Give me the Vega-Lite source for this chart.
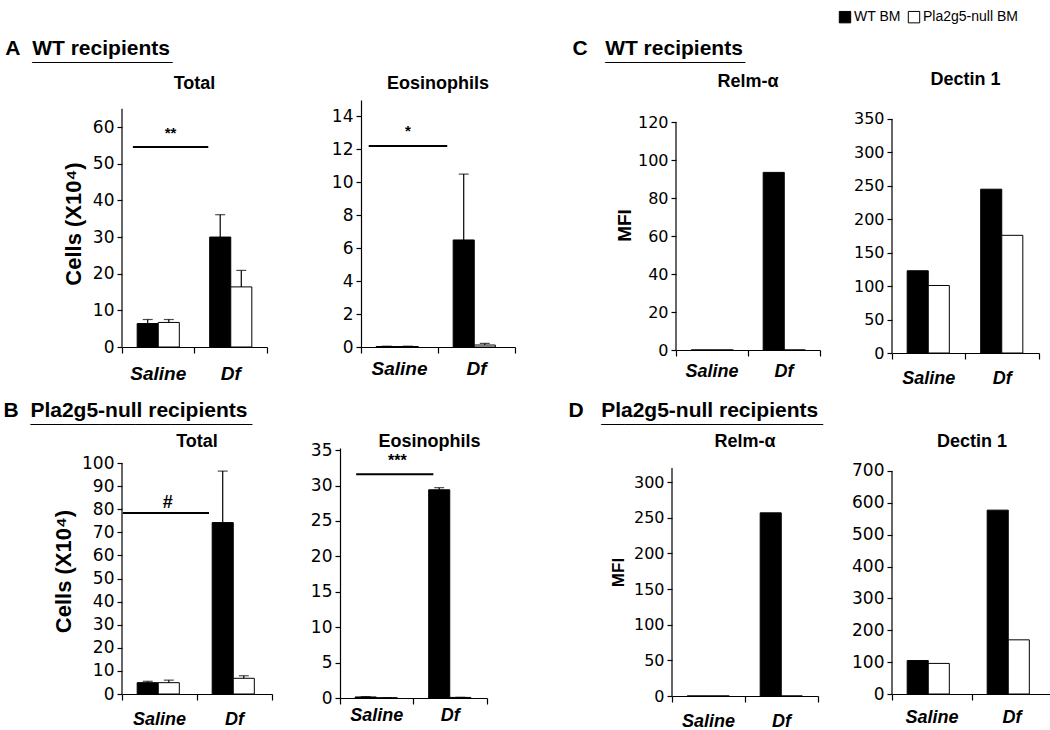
{
"$schema":"https://vega.github.io/schema/vega-lite/v6.json",
"background":"white",
"padding":{"left":3,"top":10,"right":0,"bottom":0},
"datasets":{
"bars":[
{"panel":"AT","cond":"Saline","bm":"WT BM","value":6.4,"upper":7.5},
{"panel":"AT","cond":"Saline","bm":"Pla2g5-null BM","value":6.7,"upper":7.5},
{"panel":"AT","cond":"Df","bm":"WT BM","value":30.0,"upper":36.1},
{"panel":"AT","cond":"Df","bm":"Pla2g5-null BM","value":16.4,"upper":20.9},
{"panel":"AE","cond":"Saline","bm":"WT BM","value":0.03,"upper":0.05},
{"panel":"AE","cond":"Saline","bm":"Pla2g5-null BM","value":0.03,"upper":0.05},
{"panel":"AE","cond":"Df","bm":"WT BM","value":6.5,"upper":10.5},
{"panel":"AE","cond":"Df","bm":"Pla2g5-null BM","value":0.12,"upper":0.22},
{"panel":"CR","cond":"Saline","bm":"WT BM","value":0},
{"panel":"CR","cond":"Saline","bm":"Pla2g5-null BM","value":0},
{"panel":"CR","cond":"Df","bm":"WT BM","value":93.5},
{"panel":"CR","cond":"Df","bm":"Pla2g5-null BM","value":0},
{"panel":"CD","cond":"Saline","bm":"WT BM","value":123},
{"panel":"CD","cond":"Saline","bm":"Pla2g5-null BM","value":101},
{"panel":"CD","cond":"Df","bm":"WT BM","value":245},
{"panel":"CD","cond":"Df","bm":"Pla2g5-null BM","value":176},
{"panel":"BT","cond":"Saline","bm":"WT BM","value":4.9,"upper":5.5},
{"panel":"BT","cond":"Saline","bm":"Pla2g5-null BM","value":4.9,"upper":6.0},
{"panel":"BT","cond":"Df","bm":"WT BM","value":74.2,"upper":96.5},
{"panel":"BT","cond":"Df","bm":"Pla2g5-null BM","value":6.8,"upper":7.9},
{"panel":"BE","cond":"Saline","bm":"WT BM","value":0.15,"upper":0.2},
{"panel":"BE","cond":"Saline","bm":"Pla2g5-null BM","value":0.03,"upper":0.05},
{"panel":"BE","cond":"Df","bm":"WT BM","value":29.4,"upper":29.7},
{"panel":"BE","cond":"Df","bm":"Pla2g5-null BM","value":0.08,"upper":0.1},
{"panel":"DR","cond":"Saline","bm":"WT BM","value":0},
{"panel":"DR","cond":"Saline","bm":"Pla2g5-null BM","value":0},
{"panel":"DR","cond":"Df","bm":"WT BM","value":257},
{"panel":"DR","cond":"Df","bm":"Pla2g5-null BM","value":0},
{"panel":"DD","cond":"Saline","bm":"WT BM","value":105},
{"panel":"DD","cond":"Saline","bm":"Pla2g5-null BM","value":96},
{"panel":"DD","cond":"Df","bm":"WT BM","value":577},
{"panel":"DD","cond":"Df","bm":"Pla2g5-null BM","value":170}
],
"sig":[
{"panel":"AT","from":"Saline","to":"Df","ly":54.6,"ty":58.4,"label":"**"},
{"panel":"AE","from":"Saline","to":"Df","ly":12.2,"ty":13.1,"label":"*"},
{"panel":"BT","from":"Saline","to":"Df","ly":78.4,"ty":82.7,"label":"#"},
{"panel":"BE","from":"Saline","to":"Df","ly":31.6,"ty":33.4,"label":"***"}
]
},
"spacing":13,
"vconcat":[
{"spacing":56,"hconcat":[
{"title":{"text":"A\u00a0\u00a0WT recipients","subtitle":"\u200b\u2002\u2002\u00a0____________","anchor":"start","fontSize":21,"subtitleFontSize":21,"subtitleFont":"Liberation Sans","subtitleFontWeight":"bold","subtitleColor":"black","subtitlePadding":-16,"dx":-57,"offset":11},
"spacing":63,"hconcat":[
{"width":145,"height":247,"title":{"text":"Total","offset":7},
"layer":[
{"data":{"name":"bars"},"transform":[{"filter":"datum.panel==='AT'"}],"mark":{"type":"bar","stroke":"black","strokeWidth":1},
"encoding":{
"x":{"field":"cond","type":"nominal","scale":{"domain":["Saline","Df"],"paddingInner":0,"paddingOuter":0},"axis":{"title":null,"labelAngle":0,"labelFont":"Liberation Sans","labelFontSize":19,"labelFontWeight":"bold","labelFontStyle":"italic","labelPadding":11,"tickSize":6,"bandPosition":1,"tickExtra":true}},
"xOffset":{"field":"bm","type":"nominal","scale":{"domain":["WT BM","Pla2g5-null BM"],"paddingInner":0,"paddingOuter":0.72}},
"y":{"field":"value","type":"quantitative","scale":{"domain":[0,67.4],"nice":false},"axis":{"values":[0,10,20,30,40,50,60],"title":"Cells (X10⁴)","titleFontSize":22,"titlePadding":7,"labelFontSize":17,"domain":false}},
"fill":{"field":"bm","type":"nominal","scale":{"domain":["WT BM","Pla2g5-null BM"],"range":["black","white"]},"legend":{"orient":"none","legendX":716,"legendY":-90,"direction":"horizontal","title":null,"symbolType":"square","symbolSize":130,"symbolStrokeColor":"black","symbolStrokeWidth":1,"labelFontSize":14,"labelFont":"Liberation Sans","labelColor":"black","columnPadding":5,"labelOffset":2}}}},
{"data":{"name":"bars"},"transform":[{"filter":"datum.panel==='AT' && datum.cond==='Saline' && datum.bm==='WT BM'"}],"mark":{"type":"rule","color":"black","strokeWidth":1.2},"encoding":{"x":{"field":"cond","type":"nominal","bandPosition":0},"y":{"datum":0,"type":"quantitative","axis":{"values":[0,10,20,30,40,50,60],"title":"Cells (X10⁴)","titleFontSize":22,"titlePadding":7,"labelFontSize":17,"domain":false}},"y2":{"datum":65}}},
{"data":{"name":"bars"},"transform":[{"filter":"datum.panel==='AT'"}],"mark":{"type":"rule","color":"black","strokeWidth":1.2},
"encoding":{"x":{"field":"cond","type":"nominal"},"xOffset":{"field":"bm","type":"nominal"},"y":{"field":"value","type":"quantitative","axis":{"values":[0,10,20,30,40,50,60],"title":"Cells (X10⁴)","titleFontSize":22,"titlePadding":7,"labelFontSize":17,"domain":false}},"y2":{"field":"upper"}}},
{"data":{"name":"bars"},"transform":[{"filter":"datum.panel==='AT'"}],"mark":{"type":"tick","orient":"horizontal","color":"black","size":10,"thickness":1.2},
"encoding":{"x":{"field":"cond","type":"nominal"},"xOffset":{"field":"bm","type":"nominal"},"y":{"field":"upper","type":"quantitative","axis":{"values":[0,10,20,30,40,50,60],"title":"Cells (X10⁴)","titleFontSize":22,"titlePadding":7,"labelFontSize":17,"domain":false}}}},
{"data":{"name":"sig"},"transform":[{"filter":"datum.panel==='AT'"}],"mark":{"type":"rule","color":"black","strokeWidth":2},
"encoding":{"x":{"field":"from","type":"nominal","bandPosition":0.15},"x2":{"field":"to","bandPosition":0.19},"y":{"field":"ly","type":"quantitative","axis":{"values":[0,10,20,30,40,50,60],"title":"Cells (X10⁴)","titleFontSize":22,"titlePadding":7,"labelFontSize":17,"domain":false}}}},
{"data":{"name":"sig"},"transform":[{"filter":"datum.panel==='AT'"}],"mark":{"type":"text","fontSize":15,"fontWeight":"bold","color":"black","baseline":"middle"},
"encoding":{"x":{"field":"from","type":"nominal","bandPosition":0.67},"y":{"field":"ty","type":"quantitative","axis":{"values":[0,10,20,30,40,50,60],"title":"Cells (X10⁴)","titleFontSize":22,"titlePadding":7,"labelFontSize":17,"domain":false}},"text":{"field":"label"}}}
]},
{"width":154,"height":247,"title":{"text":"Eosinophils","offset":7},
"layer":[
{"data":{"name":"bars"},"transform":[{"filter":"datum.panel==='AE'"}],"mark":{"type":"bar","stroke":"black","strokeWidth":1},
"encoding":{
"x":{"field":"cond","type":"nominal","scale":{"domain":["Saline","Df"],"paddingInner":0,"paddingOuter":0},"axis":{"title":null,"labelAngle":0,"labelFont":"Liberation Sans","labelFontSize":19,"labelFontWeight":"bold","labelFontStyle":"italic","labelPadding":6,"tickSize":6,"bandPosition":1,"tickExtra":true}},
"xOffset":{"field":"bm","type":"nominal","scale":{"domain":["WT BM","Pla2g5-null BM"],"paddingInner":0,"paddingOuter":0.72}},
"y":{"field":"value","type":"quantitative","scale":{"domain":[0,15],"nice":false},"axis":{"values":[0,2,4,6,8,10,12,14],"title":null,"labelFontSize":17}},
"fill":{"field":"bm","type":"nominal","scale":{"domain":["WT BM","Pla2g5-null BM"],"range":["black","white"]},"legend":{"orient":"none","legendX":716,"legendY":-90,"direction":"horizontal","title":null,"symbolType":"square","symbolSize":130,"symbolStrokeColor":"black","symbolStrokeWidth":1,"labelFontSize":14,"labelFont":"Liberation Sans","labelColor":"black","columnPadding":5,"labelOffset":2}}}},
{"data":{"name":"bars"},"transform":[{"filter":"datum.panel==='AE'"}],"mark":{"type":"rule","color":"black","strokeWidth":1.2},
"encoding":{"x":{"field":"cond","type":"nominal"},"xOffset":{"field":"bm","type":"nominal"},"y":{"field":"value","type":"quantitative","axis":{"values":[0,2,4,6,8,10,12,14],"title":null,"labelFontSize":17}},"y2":{"field":"upper"}}},
{"data":{"name":"bars"},"transform":[{"filter":"datum.panel==='AE'"}],"mark":{"type":"tick","orient":"horizontal","color":"black","size":10,"thickness":1.2},
"encoding":{"x":{"field":"cond","type":"nominal"},"xOffset":{"field":"bm","type":"nominal"},"y":{"field":"upper","type":"quantitative","axis":{"values":[0,2,4,6,8,10,12,14],"title":null,"labelFontSize":17}}}},
{"data":{"name":"sig"},"transform":[{"filter":"datum.panel==='AE'"}],"mark":{"type":"rule","color":"black","strokeWidth":2},
"encoding":{"x":{"field":"from","type":"nominal","bandPosition":0.1},"x2":{"field":"to","bandPosition":0.12},"y":{"field":"ly","type":"quantitative","axis":{"values":[0,2,4,6,8,10,12,14],"title":null,"labelFontSize":17}}}},
{"data":{"name":"sig"},"transform":[{"filter":"datum.panel==='AE'"}],"mark":{"type":"text","fontSize":15,"fontWeight":"bold","color":"black","baseline":"middle"},
"encoding":{"x":{"field":"from","type":"nominal","bandPosition":0.61},"y":{"field":"ty","type":"quantitative","axis":{"values":[0,2,4,6,8,10,12,14],"title":null,"labelFontSize":17}},"text":{"field":"label"}}}
]}
]},
{"title":{"text":"C\u00a0\u00a0\u00a0WT recipients","subtitle":"\u200b\u2002\u2002\u00a0\u00a0____________","anchor":"start","fontSize":21,"subtitleFontSize":21,"subtitleFont":"Liberation Sans","subtitleFontWeight":"bold","subtitleColor":"black","subtitlePadding":-16,"dx":-43,"offset":7},
"spacing":32,"hconcat":[
{"width":144,"height":250,"title":{"text":"Relm-α","offset":9},
"layer":[
{"data":{"name":"bars"},"transform":[{"filter":"datum.panel==='CR'"}],"mark":{"type":"bar","stroke":"black","strokeWidth":1},
"encoding":{
"x":{"field":"cond","type":"nominal","scale":{"domain":["Saline","Df"],"paddingInner":0,"paddingOuter":0},"axis":{"title":null,"labelAngle":0,"labelFont":"Liberation Sans","labelFontSize":18,"labelFontWeight":"bold","labelFontStyle":"italic","labelPadding":6,"tickSize":6,"bandPosition":1,"tickExtra":true}},
"xOffset":{"field":"bm","type":"nominal","scale":{"domain":["WT BM","Pla2g5-null BM"],"paddingInner":0,"paddingOuter":0.72}},
"y":{"field":"value","type":"quantitative","scale":{"domain":[0,131.6],"nice":false},"axis":{"values":[0,20,40,60,80,100,120],"title":"MFI","titleFontSize":19,"titlePadding":3,"labelFontSize":16,"domain":false}},
"fill":{"field":"bm","type":"nominal","scale":{"domain":["WT BM","Pla2g5-null BM"],"range":["black","white"]},"legend":{"orient":"none","legendX":716,"legendY":-90,"direction":"horizontal","title":null,"symbolType":"square","symbolSize":130,"symbolStrokeColor":"black","symbolStrokeWidth":1,"labelFontSize":14,"labelFont":"Liberation Sans","labelColor":"black","columnPadding":5,"labelOffset":2}}}},
{"data":{"name":"bars"},"transform":[{"filter":"datum.panel==='CR' && datum.cond==='Saline' && datum.bm==='WT BM'"}],"mark":{"type":"rule","color":"black","strokeWidth":1.2},"encoding":{"x":{"field":"cond","type":"nominal","bandPosition":0},"y":{"datum":0,"type":"quantitative","axis":{"values":[0,20,40,60,80,100,120],"title":"MFI","titleFontSize":19,"titlePadding":3,"labelFontSize":16,"domain":false}},"y2":{"datum":120}}}
]},
{"width":147,"height":253,"title":{"text":"Dectin 1","offset":11},
"layer":[
{"data":{"name":"bars"},"transform":[{"filter":"datum.panel==='CD'"}],"mark":{"type":"bar","stroke":"black","strokeWidth":1},
"encoding":{
"x":{"field":"cond","type":"nominal","scale":{"domain":["Saline","Df"],"paddingInner":0,"paddingOuter":0},"axis":{"title":null,"labelAngle":0,"labelFont":"Liberation Sans","labelFontSize":18,"labelFontWeight":"bold","labelFontStyle":"italic","labelPadding":10,"tickSize":6,"bandPosition":1,"tickExtra":true}},
"xOffset":{"field":"bm","type":"nominal","scale":{"domain":["WT BM","Pla2g5-null BM"],"paddingInner":0,"paddingOuter":0.72}},
"y":{"field":"value","type":"quantitative","scale":{"domain":[0,378.4],"nice":false},"axis":{"values":[0,50,100,150,200,250,300,350],"title":null,"labelFontSize":16,"domain":false}},
"fill":{"field":"bm","type":"nominal","scale":{"domain":["WT BM","Pla2g5-null BM"],"range":["black","white"]},"legend":{"orient":"none","legendX":716,"legendY":-90,"direction":"horizontal","title":null,"symbolType":"square","symbolSize":130,"symbolStrokeColor":"black","symbolStrokeWidth":1,"labelFontSize":14,"labelFont":"Liberation Sans","labelColor":"black","columnPadding":5,"labelOffset":2}}}},
{"data":{"name":"bars"},"transform":[{"filter":"datum.panel==='CD' && datum.cond==='Saline' && datum.bm==='WT BM'"}],"mark":{"type":"rule","color":"black","strokeWidth":1.2},"encoding":{"x":{"field":"cond","type":"nominal","bandPosition":0},"y":{"datum":0,"type":"quantitative","axis":{"values":[0,50,100,150,200,250,300,350],"title":null,"labelFontSize":16,"domain":false}},"y2":{"datum":350}}}
]}
]}
]},
{"spacing":80,"hconcat":[
{"title":{"text":"B\u00a0\u00a0Pla2g5-null recipients","subtitle":"\u200b\u2002\u2002\u00a0___________________","anchor":"start","fontSize":21,"subtitleFontSize":21,"subtitleFont":"Liberation Sans","subtitleFontWeight":"bold","subtitleColor":"black","subtitlePadding":-16,"dx":-49,"offset":7},
"spacing":37,"hconcat":[
{"width":150,"height":246,"title":{"text":"Total","offset":-3},
"layer":[
{"data":{"name":"bars"},"transform":[{"filter":"datum.panel==='BT'"}],"mark":{"type":"bar","stroke":"black","strokeWidth":1},
"encoding":{
"x":{"field":"cond","type":"nominal","scale":{"domain":["Saline","Df"],"paddingInner":0,"paddingOuter":0},"axis":{"title":null,"labelAngle":0,"labelFont":"Liberation Sans","labelFontSize":18,"labelFontWeight":"bold","labelFontStyle":"italic","labelPadding":10,"tickSize":6,"bandPosition":1,"tickExtra":true}},
"xOffset":{"field":"bm","type":"nominal","scale":{"domain":["WT BM","Pla2g5-null BM"],"paddingInner":0,"paddingOuter":0.72}},
"y":{"field":"value","type":"quantitative","scale":{"domain":[0,106.5],"nice":false},"axis":{"values":[0,10,20,30,40,50,60,70,80,90,100],"title":"Cells (X10⁴)","titleFontSize":22,"titlePadding":6,"labelFontSize":17,"domain":false}},
"fill":{"field":"bm","type":"nominal","scale":{"domain":["WT BM","Pla2g5-null BM"],"range":["black","white"]},"legend":{"orient":"none","legendX":716,"legendY":-90,"direction":"horizontal","title":null,"symbolType":"square","symbolSize":130,"symbolStrokeColor":"black","symbolStrokeWidth":1,"labelFontSize":14,"labelFont":"Liberation Sans","labelColor":"black","columnPadding":5,"labelOffset":2}}}},
{"data":{"name":"bars"},"transform":[{"filter":"datum.panel==='BT' && datum.cond==='Saline' && datum.bm==='WT BM'"}],"mark":{"type":"rule","color":"black","strokeWidth":1.2},"encoding":{"x":{"field":"cond","type":"nominal","bandPosition":0},"y":{"datum":0,"type":"quantitative","axis":{"values":[0,10,20,30,40,50,60,70,80,90,100],"title":"Cells (X10⁴)","titleFontSize":22,"titlePadding":6,"labelFontSize":17,"domain":false}},"y2":{"datum":100}}},
{"data":{"name":"bars"},"transform":[{"filter":"datum.panel==='BT'"}],"mark":{"type":"rule","color":"black","strokeWidth":1.2},
"encoding":{"x":{"field":"cond","type":"nominal"},"xOffset":{"field":"bm","type":"nominal"},"y":{"field":"value","type":"quantitative","axis":{"values":[0,10,20,30,40,50,60,70,80,90,100],"title":"Cells (X10⁴)","titleFontSize":22,"titlePadding":6,"labelFontSize":17,"domain":false}},"y2":{"field":"upper"}}},
{"data":{"name":"bars"},"transform":[{"filter":"datum.panel==='BT'"}],"mark":{"type":"tick","orient":"horizontal","color":"black","size":10,"thickness":1.2},
"encoding":{"x":{"field":"cond","type":"nominal"},"xOffset":{"field":"bm","type":"nominal"},"y":{"field":"upper","type":"quantitative","axis":{"values":[0,10,20,30,40,50,60,70,80,90,100],"title":"Cells (X10⁴)","titleFontSize":22,"titlePadding":6,"labelFontSize":17,"domain":false}}}},
{"data":{"name":"sig"},"transform":[{"filter":"datum.panel==='BT'"}],"mark":{"type":"rule","color":"black","strokeWidth":2},
"encoding":{"x":{"field":"from","type":"nominal","bandPosition":0.01},"x2":{"field":"to","bandPosition":0.16},"y":{"field":"ly","type":"quantitative","axis":{"values":[0,10,20,30,40,50,60,70,80,90,100],"title":"Cells (X10⁴)","titleFontSize":22,"titlePadding":6,"labelFontSize":17,"domain":false}}}},
{"data":{"name":"sig"},"transform":[{"filter":"datum.panel==='BT'"}],"mark":{"type":"text","fontSize":18,"fontWeight":"bold","color":"black","baseline":"middle"},
"encoding":{"x":{"field":"from","type":"nominal","bandPosition":0.61},"y":{"field":"ty","type":"quantitative","axis":{"values":[0,10,20,30,40,50,60,70,80,90,100],"title":"Cells (X10⁴)","titleFontSize":22,"titlePadding":6,"labelFontSize":17,"domain":false}},"text":{"field":"label"}}}
]},
{"width":147,"height":250,"title":{"text":"Eosinophils","offset":-10,"dx":16},
"layer":[
{"data":{"name":"bars"},"transform":[{"filter":"datum.panel==='BE'"}],"mark":{"type":"bar","stroke":"black","strokeWidth":1},
"encoding":{
"x":{"field":"cond","type":"nominal","scale":{"domain":["Saline","Df"],"paddingInner":0,"paddingOuter":0},"axis":{"title":null,"labelAngle":0,"labelFont":"Liberation Sans","labelFontSize":18,"labelFontWeight":"bold","labelFontStyle":"italic","labelPadding":2,"tickSize":6,"bandPosition":1,"tickExtra":true}},
"xOffset":{"field":"bm","type":"nominal","scale":{"domain":["WT BM","Pla2g5-null BM"],"paddingInner":0,"paddingOuter":0.72}},
"y":{"field":"value","type":"quantitative","scale":{"domain":[0,35.3],"nice":false},"axis":{"values":[0,5,10,15,20,25,30,35],"title":null,"labelFontSize":17}},
"fill":{"field":"bm","type":"nominal","scale":{"domain":["WT BM","Pla2g5-null BM"],"range":["black","white"]},"legend":{"orient":"none","legendX":716,"legendY":-90,"direction":"horizontal","title":null,"symbolType":"square","symbolSize":130,"symbolStrokeColor":"black","symbolStrokeWidth":1,"labelFontSize":14,"labelFont":"Liberation Sans","labelColor":"black","columnPadding":5,"labelOffset":2}}}},
{"data":{"name":"bars"},"transform":[{"filter":"datum.panel==='BE'"}],"mark":{"type":"rule","color":"black","strokeWidth":1.2},
"encoding":{"x":{"field":"cond","type":"nominal"},"xOffset":{"field":"bm","type":"nominal"},"y":{"field":"value","type":"quantitative","axis":{"values":[0,5,10,15,20,25,30,35],"title":null,"labelFontSize":17}},"y2":{"field":"upper"}}},
{"data":{"name":"bars"},"transform":[{"filter":"datum.panel==='BE'"}],"mark":{"type":"tick","orient":"horizontal","color":"black","size":10,"thickness":1.2},
"encoding":{"x":{"field":"cond","type":"nominal"},"xOffset":{"field":"bm","type":"nominal"},"y":{"field":"upper","type":"quantitative","axis":{"values":[0,5,10,15,20,25,30,35],"title":null,"labelFontSize":17}}}},
{"data":{"name":"sig"},"transform":[{"filter":"datum.panel==='BE'"}],"mark":{"type":"rule","color":"black","strokeWidth":2},
"encoding":{"x":{"field":"from","type":"nominal","bandPosition":0.22},"x2":{"field":"to","bandPosition":0.27},"y":{"field":"ly","type":"quantitative","axis":{"values":[0,5,10,15,20,25,30,35],"title":null,"labelFontSize":17}}}},
{"data":{"name":"sig"},"transform":[{"filter":"datum.panel==='BE'"}],"mark":{"type":"text","fontSize":16,"fontWeight":"bold","color":"black","baseline":"middle"},
"encoding":{"x":{"field":"from","type":"nominal","bandPosition":0.78},"y":{"field":"ty","type":"quantitative","axis":{"values":[0,5,10,15,20,25,30,35],"title":null,"labelFontSize":17}},"text":{"field":"label"}}}
]}
]},
{"title":{"text":"D\u00a0\u00a0\u00a0Pla2g5-null recipients","subtitle":"\u200b\u2002\u2002\u00a0\u00a0___________________","anchor":"start","fontSize":21,"subtitleFontSize":21,"subtitleFont":"Liberation Sans","subtitleFontWeight":"bold","subtitleColor":"black","subtitlePadding":-16,"dx":-41,"offset":7},
"spacing":32,"hconcat":[
{"width":146,"height":248,"title":{"text":"Relm-α","offset":-3},
"layer":[
{"data":{"name":"bars"},"transform":[{"filter":"datum.panel==='DR'"}],"mark":{"type":"bar","stroke":"black","strokeWidth":1},
"encoding":{
"x":{"field":"cond","type":"nominal","scale":{"domain":["Saline","Df"],"paddingInner":0,"paddingOuter":0},"axis":{"title":null,"labelAngle":0,"labelFont":"Liberation Sans","labelFontSize":18,"labelFontWeight":"bold","labelFontStyle":"italic","labelPadding":10,"tickSize":6,"bandPosition":1,"tickExtra":true}},
"xOffset":{"field":"bm","type":"nominal","scale":{"domain":["WT BM","Pla2g5-null BM"],"paddingInner":0,"paddingOuter":0.72}},
"y":{"field":"value","type":"quantitative","scale":{"domain":[0,348],"nice":false},"axis":{"values":[0,50,100,150,200,250,300],"title":"MFI","titleFontSize":17,"titlePadding":6,"labelFontSize":16,"domain":false}},
"fill":{"field":"bm","type":"nominal","scale":{"domain":["WT BM","Pla2g5-null BM"],"range":["black","white"]},"legend":{"orient":"none","legendX":716,"legendY":-90,"direction":"horizontal","title":null,"symbolType":"square","symbolSize":130,"symbolStrokeColor":"black","symbolStrokeWidth":1,"labelFontSize":14,"labelFont":"Liberation Sans","labelColor":"black","columnPadding":5,"labelOffset":2}}}},
{"data":{"name":"bars"},"transform":[{"filter":"datum.panel==='DR' && datum.cond==='Saline' && datum.bm==='WT BM'"}],"mark":{"type":"rule","color":"black","strokeWidth":1.2},"encoding":{"x":{"field":"cond","type":"nominal","bandPosition":0},"y":{"datum":0,"type":"quantitative","axis":{"values":[0,50,100,150,200,250,300],"title":"MFI","titleFontSize":17,"titlePadding":6,"labelFontSize":16,"domain":false}},"y2":{"datum":320}}}
]},
{"width":160,"height":246,"title":{"text":"Dectin 1","offset":-3},
"layer":[
{"data":{"name":"bars"},"transform":[{"filter":"datum.panel==='DD'"}],"mark":{"type":"bar","stroke":"black","strokeWidth":1},
"encoding":{
"x":{"field":"cond","type":"nominal","scale":{"domain":["Saline","Df"],"paddingInner":0,"paddingOuter":0},"axis":{"title":null,"labelAngle":0,"labelFont":"Liberation Sans","labelFontSize":18,"labelFontWeight":"bold","labelFontStyle":"italic","labelPadding":8,"tickSize":6,"bandPosition":1,"tickExtra":true}},
"xOffset":{"field":"bm","type":"nominal","scale":{"domain":["WT BM","Pla2g5-null BM"],"paddingInner":0,"paddingOuter":0.72}},
"y":{"field":"value","type":"quantitative","scale":{"domain":[0,772],"nice":false},"axis":{"values":[0,100,200,300,400,500,600,700],"title":null,"labelFontSize":17,"domain":false}},
"fill":{"field":"bm","type":"nominal","scale":{"domain":["WT BM","Pla2g5-null BM"],"range":["black","white"]},"legend":{"orient":"none","legendX":716,"legendY":-90,"direction":"horizontal","title":null,"symbolType":"square","symbolSize":130,"symbolStrokeColor":"black","symbolStrokeWidth":1,"labelFontSize":14,"labelFont":"Liberation Sans","labelColor":"black","columnPadding":5,"labelOffset":2}}}},
{"data":{"name":"bars"},"transform":[{"filter":"datum.panel==='DD' && datum.cond==='Saline' && datum.bm==='WT BM'"}],"mark":{"type":"rule","color":"black","strokeWidth":1.2},"encoding":{"x":{"field":"cond","type":"nominal","bandPosition":0},"y":{"datum":0,"type":"quantitative","axis":{"values":[0,100,200,300,400,500,600,700],"title":null,"labelFontSize":17,"domain":false}},"y2":{"datum":700}}}
]}
]}
]}
],
"config":{
"view":{"stroke":null},
"font":"Liberation Sans",
"axis":{"domainColor":"black","domainWidth":1.2,"tickColor":"black","tickWidth":1.2,"labelColor":"black","titleColor":"black","grid":false,"labelFont":"DejaVu Sans","titleFont":"Liberation Sans","titleFontWeight":"bold","labelOverlap":false},
"axisY":{"tickSize":5,"labelPadding":3},
"title":{"font":"Liberation Sans","fontWeight":"bold","fontSize":18,"color":"black"}
}
}
